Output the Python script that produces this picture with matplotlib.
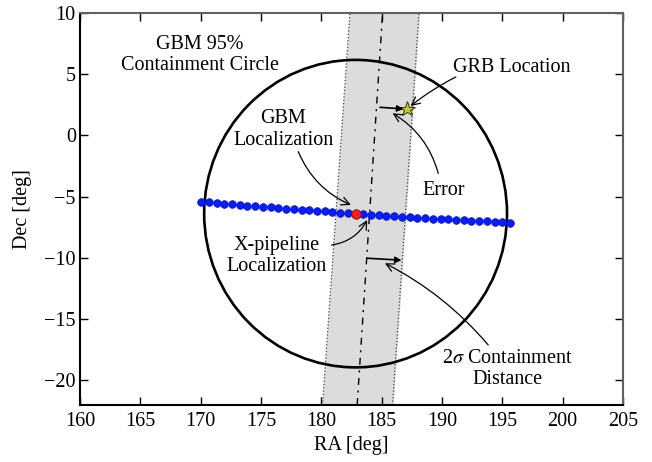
import numpy as np
import matplotlib.pyplot as plt
from matplotlib.patches import Ellipse

plt.rcParams['font.family'] = ['Liberation Serif', 'DejaVu Serif']
plt.rcParams['mathtext.fontset'] = 'stix'
plt.rcParams['font.size'] = 14.5

# grid of trial sky positions (deg)
grid_ra = [170.04, 170.68, 171.32, 171.96, 172.60, 173.24, 173.88, 174.52, 175.16, 175.80,
           176.44, 177.08, 177.72, 178.36, 179.00, 179.64, 180.28, 180.92, 181.56, 182.20,
           182.84, 183.48, 184.12, 184.76, 185.40, 186.04, 186.68, 187.32, 187.96, 188.60,
           189.24, 189.88, 190.52, 191.16, 191.80, 192.44, 193.08, 193.72, 194.36, 195.00,
           195.64]
grid_dec = [-5.400, -5.455, -5.509, -5.563, -5.616, -5.669, -5.721, -5.772, -5.823, -5.873,
            -5.922, -5.971, -6.019, -6.066, -6.113, -6.159, -6.205, -6.250, -6.294, -6.338,
            -6.381, -6.424, -6.466, -6.507, -6.548, -6.588, -6.627, -6.666, -6.704, -6.741,
            -6.778, -6.814, -6.850, -6.885, -6.919, -6.953, -6.986, -7.019, -7.051, -7.082,
            -7.113]

gbm_ra, gbm_dec = 182.84, -6.38
gbm_radius = 12.55
grb_ra, grb_dec = 187.12, 2.16

# X-pipeline band (edges and centre line)
band_dec = [-22, 10]
band_left = [180.1, 182.37]
band_right = [185.9, 188.09]
band_center = [182.97, 185.08]

# offset arrows
err_from = (184.86, 2.30)
err_to = (186.80, 2.17)
sig_from = (183.80, -10.02)
sig_to = (186.65, -10.18)

# labels: text, text position, arrow start, arrow tip, curvature
labels = [
    ('GRB Location', (195.79, 5.59), (191.15, 4.78), (187.40, 2.41), 0.05),
    ('Error', (190.13, -4.53), (189.69, -3.09), (185.91, 1.81), 0.2),
    ('GBM\nLocalization', (176.86, 0.49), (178.09, -1.32), (182.45, -5.67), 0.2),
    ('X-pipeline\nLocalization', (176.28, -9.84), (180.85, -8.94), (183.80, -6.90), 0.25),
    ('2$\\sigma$ Containment\nDistance', (195.42, -19.06), (193.83, -17.10), (185.27, -10.43), 0.1),
]

fig = plt.figure(figsize=(6.52, 4.62), dpi=100)
ax = fig.add_axes([0.1227, 0.1234, 0.8328, 0.8485])

ax.fill_betweenx(band_dec, band_left, band_right, color='#dcdcdc', zorder=1)
ax.plot(band_left, band_dec, ':', color='#444444', lw=0.9, zorder=2)
ax.plot(band_right, band_dec, ':', color='#444444', lw=0.9, zorder=2)
ax.plot(band_center, band_dec, color='black', lw=1.0, zorder=2,
        dashes=(5, 4, 1.5, 4))

circ = Ellipse((gbm_ra, gbm_dec), 2 * gbm_radius, 2 * gbm_radius, fill=False,
               edgecolor='black', lw=1.9, zorder=3)
ax.add_patch(circ)

ax.plot(grid_ra, grid_dec, 'o', color='#0a1ef0', mec='#0010c0', mew=0.5, ms=5.5, zorder=4)
ax.plot(gbm_ra, gbm_dec, 'o', color='#f02020', mec='#a00000', mew=0.6, ms=6.8, zorder=5)
ax.plot(grb_ra, grb_dec, '*', color='#c8c83a', mec='#3a3a00', mew=0.7, ms=11.5, zorder=5)

head = dict(arrowstyle='-|>', color='black', lw=1.2, mutation_scale=9,
            shrinkA=0, shrinkB=0)
ax.annotate('', xy=err_to, xytext=err_from, arrowprops=head, zorder=6)
ax.annotate('', xy=sig_to, xytext=sig_from, arrowprops=head, zorder=6)

ax.text(169.94, 6.57, 'GBM 95%\nContainment Circle', ha='center', va='center',
        multialignment='center', linespacing=1.15)

for txt, pos, start, tip, rad in labels:
    ax.text(pos[0], pos[1], txt, ha='center', va='center',
            multialignment='center', linespacing=1.15, zorder=6)
    ax.annotate('', xy=tip, xytext=start,
                arrowprops=dict(arrowstyle='->', color='black', lw=0.9,
                                shrinkA=0, shrinkB=0,
                                connectionstyle='arc3,rad=%s' % rad),
                zorder=6)

ax.set_xlim(160, 205)
ax.set_ylim(-22, 10)
ax.set_xticks(np.arange(160, 206, 5))
ax.set_yticks(np.arange(-20, 11, 5))
ax.tick_params(direction='in', top=True, right=True, length=6, width=1.0,
               labelsize=14.5)
ax.tick_params(axis='x', pad=5)
ax.tick_params(axis='y', pad=3)
ax.set_xlabel('RA [deg]', fontsize=14.5, labelpad=4)
ax.set_ylabel('Dec [deg]', fontsize=14.5, labelpad=9)

for side in ['left', 'bottom']:
    ax.spines[side].set_linewidth(1.5)
    ax.spines[side].set_color('black')
for side in ['top', 'right']:
    ax.spines[side].set_linewidth(1.5)
    ax.spines[side].set_color('#606060')

fig.savefig('out.png', dpi=100)
